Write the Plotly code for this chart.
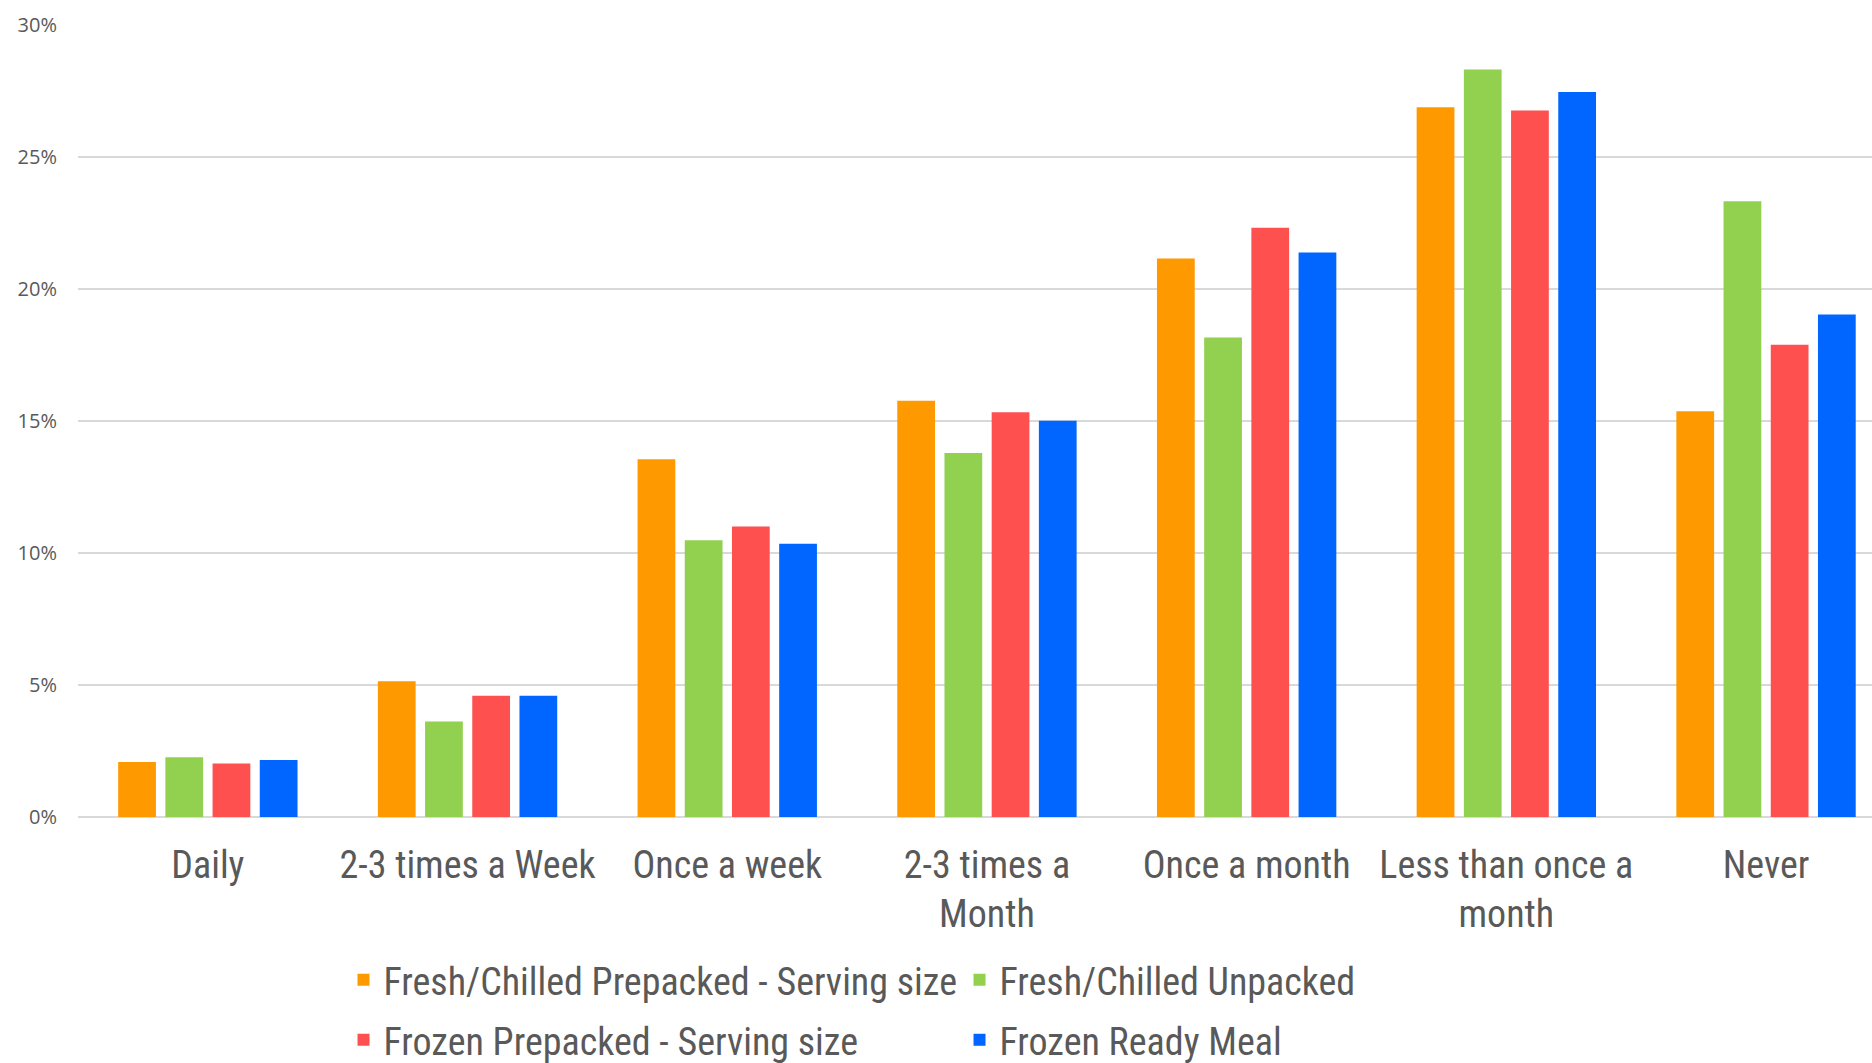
import plotly.graph_objects as go

categories = ["Daily", "2-3 times a Week", "Once a week", "2-3 times a<br>Month",
              "Once a month", "Less than once a<br>month", "Never"]
fresh_prepacked = [2.08, 5.14, 13.54, 15.76, 21.14, 26.87, 15.36]
fresh_unpacked = [2.26, 3.62, 10.48, 13.78, 18.15, 28.30, 23.31]
frozen_prepacked = [2.03, 4.59, 11.00, 15.32, 22.31, 26.75, 17.88]
frozen_ready = [2.16, 4.59, 10.34, 15.00, 21.37, 27.45, 19.02]

series_names = ["Fresh/Chilled Prepacked - Serving size", "Fresh/Chilled Unpacked",
                "Frozen Prepacked - Serving size", "Frozen Ready Meal"]
series_values = [fresh_prepacked, fresh_unpacked, frozen_prepacked, frozen_ready]
colors = ["#FF9900", "#92D050", "#FF5050", "#0066FF"]
legend_ids = ["legend", "legend", "legend2", "legend2"]

fig = go.Figure()
for name, vals, col, lg in zip(series_names, series_values, colors, legend_ids):
    fig.add_trace(go.Bar(x=categories, y=vals, name=name, marker_color=col,
                         marker_line_width=0, legend=lg))

font_narrow = "Liberation Sans Narrow, Arial Narrow, Roboto Condensed, DejaVu Sans Condensed, sans-serif"

legend_common = dict(orientation="h", xanchor="left", yanchor="middle",
                     font=dict(family=font_narrow, size=38, color="#595959"),
                     entrywidth=571, entrywidthmode="pixels",
                     bgcolor="rgba(0,0,0,0)", borderwidth=0, tracegroupgap=0)

fig.update_layout(
    width=1872, height=1063,
    margin=dict(l=78, r=0, t=24, b=246, autoexpand=False),
    paper_bgcolor="white", plot_bgcolor="white",
    barmode="group", bargap=0.273, bargroupgap=0.2,
    showlegend=True,
    legend=dict(x=0.148, y=-0.2056, **legend_common),
    legend2=dict(x=0.148, y=-0.2813, **legend_common),
    xaxis=dict(range=[-0.5, 6.408], showgrid=False, showline=False, zeroline=False,
               automargin=False,
               tickfont=dict(family=font_narrow, size=38, color="#595959"),
               ticks="", ticklabelstandoff=22, tickangle=0),
    yaxis=dict(range=[0, 30.02], dtick=5, ticksuffix="%", showgrid=True,
               automargin=False,
               gridcolor="#D9D9D9", gridwidth=1.5, zeroline=True,
               zerolinecolor="#D9D9D9", zerolinewidth=1.5, showline=False,
               tickfont=dict(family="Open Sans, Segoe UI, sans-serif", size=20, color="#595959"),
               ticklabelstandoff=20),
)

fig.write_html("out.html")
